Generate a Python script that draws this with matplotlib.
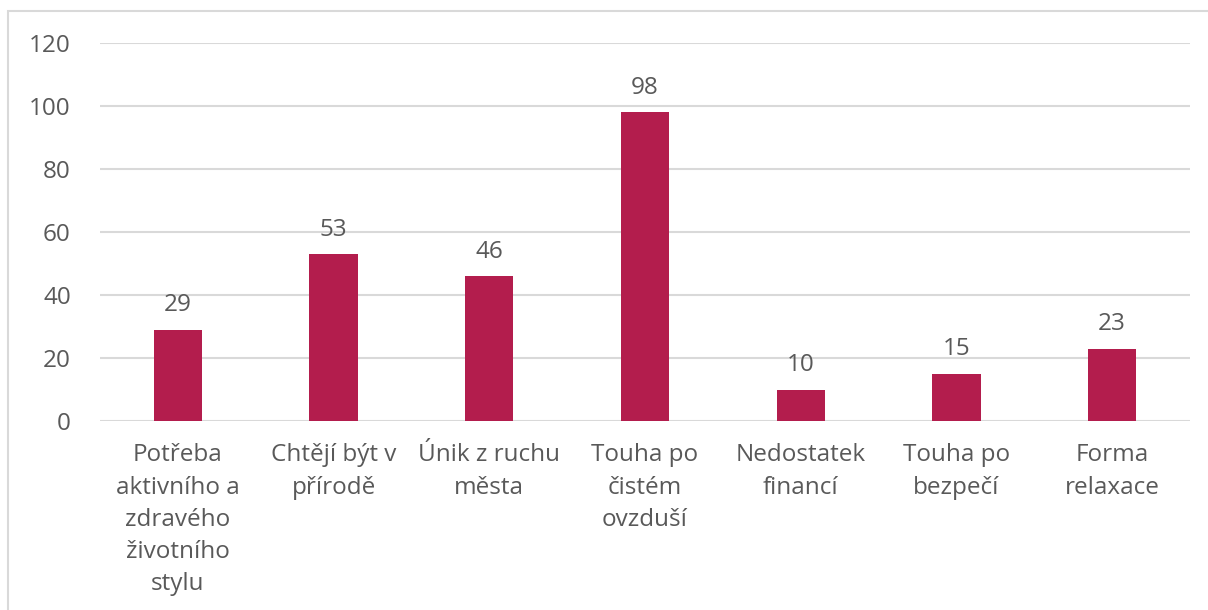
import matplotlib.pyplot as plt
from matplotlib.patches import Rectangle

categories = [
    "Potřeba\naktivního a\nzdravého\nživotního\nstylu",
    "Chtějí být v\npřírodě",
    "Únik z ruchu\nměsta",
    "Touha po\nčistém\novzduší",
    "Nedostatek\nfinancí",
    "Touha po\nbezpečí",
    "Forma\nrelaxace",
]
values = [29, 53, 46, 98, 10, 15, 23]
yticks = [0, 20, 40, 60, 80, 100, 120]

BAR = "#B31D4D"
TEXT = "#595959"
GRID = "#D9D9D9"

plt.rcParams["font.family"] = ["Open Sans", "DejaVu Sans"]

fig = plt.figure(figsize=(12.08, 6.10), dpi=100)
fig.patches.append(Rectangle((8 / 1208, -0.1), 1.1, 1 - 11 / 610 + 0.1,
                             transform=fig.transFigure, fill=False,
                             edgecolor=GRID, linewidth=1.5))
ax = fig.add_axes([100 / 1208, 1 - 421 / 610, 1090 / 1208, 378 / 610])

x = range(len(categories))
bars = ax.bar(x, values, width=0.31, color=BAR, zorder=3)
for b, v in zip(bars, values):
    ax.annotate(str(v), (b.get_x() + b.get_width() / 2, v), xytext=(0, 9),
                textcoords="offset points", ha="center", va="bottom",
                fontsize=17.5, color=TEXT)

ax.set_xlim(-0.5, len(categories) - 0.5)
ax.set_ylim(0, 120)
ax.set_yticks(yticks)
ax.set_xticks(list(x))
ax.set_xticklabels(categories, fontsize=17.5, color=TEXT, linespacing=1.46)
ax.tick_params(axis="y", labelsize=17.5, labelcolor=TEXT, length=0, pad=21)
ax.tick_params(axis="x", length=0, pad=16)
ax.grid(axis="y", color=GRID, linewidth=1.5, zorder=0)
for s in ax.spines.values():
    s.set_visible(False)

fig.savefig("out.png", dpi=100)
